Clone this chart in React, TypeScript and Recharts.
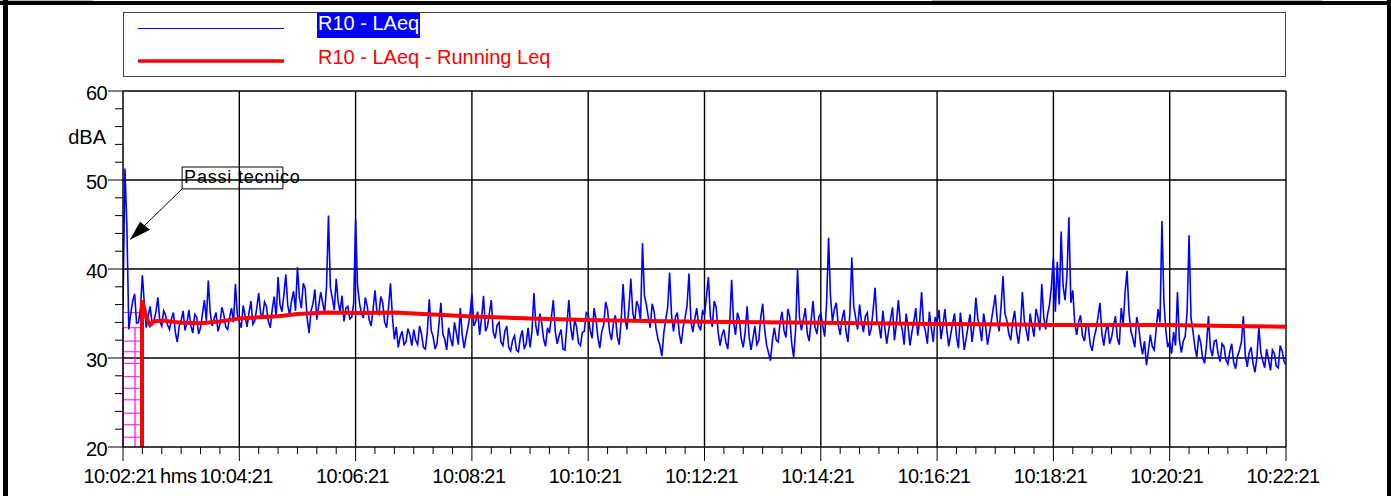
import { LineChart, Line, XAxis, YAxis, ReferenceLine, ReferenceArea, ReferenceDot, Legend } from "recharts"

const FONT = "'Liberation Sans', Arial, sans-serif"

// LAeq, one reading every 2 s from 10:02:21 (one row = one minute)
const sampleStep = 2
const laeq = [
  35.5, 51.3, 44.8, 33.2, 35.0, 36.4, 37.2, 33.9, 34.0, 35.6, 39.3, 36.1, 33.4, 34.7, 35.8, 33.9, 34.2, 35.2, 36.8, 34.1, 33.6, 35.3, 34.8, 33.7, 33.2, 34.4, 35.1, 32.9, 31.8, 33.6,
  34.2, 35.3, 33.1, 34.0, 35.4, 33.6, 32.8, 34.9, 34.6, 32.7, 33.4, 35.0, 36.5, 34.2, 38.7, 35.1, 33.6, 34.4, 35.1, 33.0, 33.8, 35.7, 34.9, 33.5, 33.2, 34.6, 35.6, 34.0, 38.3, 34.8,
  34.1, 33.4, 35.9, 34.7, 33.5, 35.1, 36.4, 33.8, 34.2, 35.6, 37.3, 35.0, 34.6, 36.3, 35.8, 34.1, 33.4, 35.5, 36.9, 34.6, 39.1, 36.0, 35.2, 37.1, 39.4, 35.9, 34.8, 36.5, 37.5, 35.3,
  40.2, 36.8, 35.6, 38.4, 37.8, 34.5, 32.8, 35.3, 36.1, 37.7, 34.3, 35.9, 37.4, 36.2, 35.1, 38.0, 46.0, 37.9, 36.7, 35.4, 38.9, 36.3, 35.2, 37.0, 34.1, 35.6, 35.8, 34.4, 34.6, 36.1,
  45.6, 38.2, 36.2, 35.0, 34.5, 36.8, 35.8, 34.3, 33.6, 35.4, 37.6, 35.2, 34.9, 36.9, 36.2, 34.0, 33.4, 35.7, 38.4, 34.6, 32.1, 33.5, 31.2, 32.4, 33.0, 31.5, 31.8, 33.3, 32.6, 31.4,
  33.2, 32.0, 31.5, 33.6, 32.7, 31.2, 31.0, 32.9, 36.6, 33.1, 32.4, 31.0, 31.6, 33.8, 36.2, 32.7, 32.1, 30.9, 33.4, 32.2, 31.3, 34.0, 32.8, 31.5, 35.6, 32.6, 31.1, 32.4, 33.5, 34.8,
  37.2, 33.6, 34.1, 35.2, 32.6, 34.5, 37.0, 33.0, 33.5, 35.0, 36.5, 32.9, 32.2, 33.7, 34.0, 31.8, 31.4, 33.0, 33.6, 31.2, 30.8, 32.0, 32.5, 30.9, 30.7, 32.3, 33.1, 31.0, 31.6, 33.4,
  31.2, 33.0, 37.3, 33.6, 32.5, 35.0, 34.0, 32.1, 31.3, 33.4, 32.8, 34.6, 36.5, 33.0, 31.6, 32.5, 33.2, 31.0, 30.9, 33.7, 36.5, 33.4, 32.0, 34.3, 33.5, 31.7, 31.4, 32.9, 33.0, 35.1,
  34.9, 33.1, 32.2, 35.6, 34.4, 32.3, 31.1, 33.0, 33.7, 36.3, 35.4, 33.0, 32.0, 33.9, 34.8, 32.4, 31.5, 34.2, 38.3, 34.5, 33.2, 35.6, 38.9, 35.1, 34.0, 36.4, 35.8, 34.2, 42.9, 37.0,
  36.0, 34.6, 33.4, 36.1, 35.2, 33.3, 32.1, 31.4, 30.2, 32.8, 34.3, 35.7, 39.6, 34.8, 33.0, 34.6, 35.1, 32.7, 31.6, 33.5, 34.5, 35.9, 39.5, 34.1, 32.9, 34.4, 35.6, 33.6, 33.1, 35.4,
  34.8, 36.9, 39.1, 34.7, 33.5, 36.4, 35.7, 33.0, 31.4, 32.6, 33.2, 31.8, 31.0, 33.9, 38.8, 34.0, 32.6, 35.1, 34.3, 32.1, 31.2, 33.0, 35.8, 32.4, 30.9, 32.2, 33.6, 31.5, 32.0, 34.5,
  36.1, 33.3, 31.5, 30.6, 29.7, 31.9, 33.4, 32.0, 31.8, 34.0, 35.2, 33.1, 32.3, 35.5, 34.6, 31.6, 30.1, 33.2, 39.9, 34.6, 33.1, 34.3, 35.6, 32.8, 31.9, 34.2, 36.4, 33.5, 32.7, 34.6,
  35.0, 33.6, 32.4, 36.2, 43.5, 36.9, 34.1, 35.5, 36.2, 33.7, 32.6, 34.4, 35.4, 33.0, 31.8, 35.0, 41.3, 35.8, 34.5, 33.2, 36.0, 34.1, 32.9, 34.7, 35.1, 32.5, 33.3, 35.4, 37.9, 34.0,
  33.7, 32.2, 35.3, 33.4, 31.6, 33.1, 34.4, 35.7, 32.0, 33.8, 36.5, 34.0, 33.2, 31.5, 35.0, 33.6, 31.4, 32.9, 34.1, 35.6, 32.5, 34.2, 37.4, 33.8, 33.0, 31.6, 35.2, 33.4, 31.8, 34.6,
  34.0, 35.4, 32.1, 33.6, 35.5, 33.2, 31.3, 32.6, 33.9, 35.0, 32.4, 31.1, 35.1, 33.3, 30.9, 32.2, 33.6, 34.9, 31.8, 33.5, 36.8, 34.4, 33.5, 31.9, 35.0, 33.7, 31.5, 32.8, 34.2, 35.6,
  37.1, 34.3, 33.0, 35.8, 39.2, 35.0, 34.2, 32.7, 32.0, 34.1, 35.3, 33.0, 31.6, 33.5, 37.4, 34.2, 33.1, 31.9, 35.0, 33.6, 32.4, 35.5, 34.6, 33.1, 38.3, 34.7, 33.2, 34.9, 36.0, 38.1,
  41.3, 35.2, 40.8, 36.0, 44.2, 38.1, 36.5, 39.3, 45.8, 36.2, 37.6, 33.9, 32.6, 34.0, 34.8, 32.5, 31.9, 33.7, 33.6, 31.5, 30.8, 32.3, 33.2, 34.6, 36.2, 32.8, 31.4, 33.0, 33.9, 31.6,
  32.3, 33.6, 34.7, 32.2, 31.5, 35.6, 33.8, 37.4, 39.8, 35.1, 33.0, 32.2, 31.2, 34.6, 33.5, 31.6, 30.4, 31.9, 29.2, 30.8, 32.6, 31.3, 30.9, 33.2, 35.5, 34.0, 45.4, 36.4, 33.1, 31.2,
  31.8, 30.5, 32.9, 31.4, 37.4, 32.0, 30.6, 31.9, 32.4, 35.3, 43.8, 34.5, 33.0, 31.2, 30.1, 32.6, 31.7, 30.0, 29.4, 31.5, 34.7, 31.1, 30.2, 31.9, 32.0, 30.4, 29.6, 31.6, 31.3, 29.8,
  29.3, 30.7, 31.6, 29.5, 28.8, 30.2, 30.9, 31.8, 34.7, 30.3, 29.0, 30.6, 31.2, 29.4, 28.4, 30.1, 33.5, 30.6, 29.7, 28.9, 31.0, 29.8, 28.6, 30.9, 30.5, 29.1, 28.9, 31.4, 30.8, 29.6,
  29.2,
]

// running Leq (seconds from start, dBA)
const runTimes = [19.6, 19.6, 24, 28, 32, 40, 60, 80, 100, 120, 160, 180, 210, 240, 280, 300, 360, 420, 480, 540, 600, 720, 840, 960, 1080, 1140, 1200]
const runLeq = [20, 36.5, 34.6, 33.7, 34.1, 34.2, 33.95, 33.9, 34.1, 34.45, 34.7, 34.95, 35.1, 35.05, 35.1, 35.0, 34.65, 34.45, 34.27, 34.15, 34.08, 33.97, 33.82, 33.72, 33.7, 33.6, 33.52]

const majorTimes = [0, 120, 240, 360, 480, 600, 720, 840, 960, 1080, 1200]
const timeLabels = ["10:02:21", "10:04:21", "10:06:21", "10:08:21", "10:10:21", "10:12:21", "10:14:21", "10:16:21", "10:18:21", "10:20:21", "10:22:21"]
const minorTimes = Array.from({ length: 61 }, (_, i) => i * 20)
const dbTicks = [20, 30, 40, 50, 60]
const dbMinor = Array.from({ length: 21 }, (_, i) => 20 + i * 2)

// pink hatched block before the running Leq starts
const hatchLevels = [21.1, 22.5, 23.8, 25.3, 26.6, 27.9, 29.4, 30.7, 31.9, 33.4, 35.1]
const hatchCols = [0, 12.4]
const hatchEnd = 19.6

const note = { text: "Passi tecnico", from: 61, to: 165, low: 49.0, high: 51.46, tipT: 7.2, tipLevel: 43.3 }

const laeqData = laeq.map((v, i) => ({ t: i * sampleStep, v }))
const runData = runTimes.map((t, i) => ({ t, v: runLeq[i] }))

function TimeTick({ x, y, payload }: any) {
  const t = payload.value
  const idx = majorTimes.indexOf(t)
  const major = idx >= 0
  return (
    <g>
      <line x1={x} x2={x} y1={y} y2={y + (major ? 14 : 7)} stroke="#000" strokeWidth={1} />
      {major && (
        <text x={x - 3} y={y + 36} textAnchor="middle" fontSize={20} letterSpacing={-0.6} fontFamily={FONT} fill="#000">
          {timeLabels[idx]}
        </text>
      )}
      {t === 0 && (
        <text x={x + 37} y={y + 36} textAnchor="start" fontSize={20} letterSpacing={-0.4} fontFamily={FONT} fill="#000">
          hms
        </text>
      )}
    </g>
  )
}

function LevelTick({ x, y, payload }: any) {
  const v = payload.value
  const major = dbTicks.includes(v)
  return (
    <g>
      <line x1={x - (major ? 15 : 8)} x2={x} y1={y} y2={y} stroke="#000" strokeWidth={1} />
      {major && (
        <text x={x - 16} y={y + 9} textAnchor="end" fontSize={20} letterSpacing={-0.6} fontFamily={FONT} fill="#000">
          {v}
        </text>
      )}
    </g>
  )
}

function LegendBox({ payload }: any) {
  const items = payload ?? []
  return (
    <svg width={1163} height={65} style={{ display: "block" }}>
      <rect x={0.5} y={0.5} width={1162} height={64} fill="#fff" stroke="#444" strokeWidth={1} />
      {items.map((it: any, i: number) => {
        const first = i === 0
        const ly = first ? 16.5 : 49
        const ty = first ? 18 : 52
        return (
          <g key={i}>
            <line x1={15} x2={161} y1={ly} y2={ly} stroke={it.color} strokeWidth={first ? 1 : 3.5} />
            {first && <rect x={194} y={0.5} width={103} height={25.5} fill={it.color} />}
            <text x={195} y={ty} fontSize={20} fontFamily={FONT} fill={first ? "#fff" : it.color}>
              {it.value}
            </text>
          </g>
        )
      })}
    </svg>
  )
}

const grid = "#000"

export default function App() {
  return (
    <div style={{ position: "absolute", left: 0, top: 0, width: 1391, height: 496, background: "#fff", overflow: "hidden" }}>
      <div style={{ position: "absolute", left: 0, top: 0 }}>
        <LineChart width={1391} height={496} margin={{ top: 91, right: 105, bottom: 0, left: 0 }}>
          <XAxis
            dataKey="t"
            type="number"
            domain={[0, 1200]}
            ticks={minorTimes}
            interval={0}
            allowDataOverflow
            height={49}
            tickSize={0}
            tickMargin={0}
            axisLine={{ stroke: grid, strokeWidth: 1.5 }}
            tick={<TimeTick />}
          />
          <YAxis
            type="number"
            domain={[20, 60]}
            ticks={dbMinor}
            interval={0}
            allowDataOverflow
            width={123}
            tickSize={0}
            tickMargin={0}
            axisLine={{ stroke: grid, strokeWidth: 1.5 }}
            tick={<LevelTick />}
            label={(p: any) => {
              const vb = p.viewBox || { x: 0, y: 91, width: 123 }
              return (
                <text x={vb.x + vb.width - 17} y={vb.y + 52.5} textAnchor="end" fontSize={20} fontFamily={FONT} fill="#000">
                  dBA
                </text>
              )
            }}
          />
          {majorTimes.slice(1).map((t) => (
            <ReferenceLine key={"gx" + t} x={t} stroke={grid} strokeWidth={1.4} />
          ))}
          {dbTicks.slice(1).map((v) => (
            <ReferenceLine key={"gy" + v} y={v} stroke={grid} strokeWidth={1.4} />
          ))}
          {hatchLevels.map((l) => (
            <ReferenceLine key={"hl" + l} segment={[{ x: 0, y: l }, { x: hatchEnd, y: l }]} stroke="#ff00ff" strokeWidth={1} />
          ))}
          {hatchCols.map((c) => (
            <ReferenceLine key={"hc" + c} segment={[{ x: c, y: 20 }, { x: c, y: hatchLevels[hatchLevels.length - 2] }]} stroke="#ff00ff" strokeWidth={1.2} />
          ))}
          <Line
            data={laeqData}
            dataKey="v"
            name="R10 - LAeq"
            stroke="#0000ff"
            strokeWidth={1.6}
            dot={false}
            activeDot={false}
            isAnimationActive={false}
          />
          <Line
            data={runData}
            dataKey="v"
            name="R10 - LAeq - Running Leq"
            stroke="#ff0000"
            strokeWidth={4}
            dot={false}
            activeDot={false}
            isAnimationActive={false}
          />
          <ReferenceLine
            segment={[{ x: note.from, y: note.low }, { x: note.tipT, y: note.tipLevel }]}
            stroke="#000"
            strokeWidth={1}
          />
          <ReferenceDot
            x={note.tipT}
            y={note.tipLevel}
            r={1}
            shape={(p: any) => (
              <polygon points={`${p.cx},${p.cy} ${p.cx + 10},${p.cy - 18} ${p.cx + 20},${p.cy - 10}`} fill="#000" />
            )}
          />
          <ReferenceArea
            x1={note.from}
            x2={note.to}
            y1={note.low}
            y2={note.high}
            fill="#fff"
            fillOpacity={1}
            stroke="#000"
            strokeWidth={1}
            label={(p: any) => {
              const vb = p.viewBox || { x: 0, y: 0 }
              return (
                <text x={vb.x + 2} y={vb.y + 16.3} fontSize={18} letterSpacing={0.8} fontFamily={FONT} fill="#000">
                  {note.text}
                </text>
              )
            }}
          />
          <Legend
            layout="horizontal"
            verticalAlign="middle"
            align="center"
            wrapperStyle={{ left: 123, top: 12, width: 1163, height: 65 }}
            content={<LegendBox />}
          />
        </LineChart>
      </div>
      <div style={{ position: "absolute", left: 0, top: 0, width: 93, height: 1, background: "#b8b8b8" }} />
      <div style={{ position: "absolute", left: 932, top: 0, width: 390, height: 1, background: "#b8b8b8" }} />
      <div style={{ position: "absolute", left: 0, top: 1, width: 1391, height: 4, background: "#000" }} />
      <div style={{ position: "absolute", left: 3, top: 0, width: 5, height: 496, background: "#000" }} />
      <div style={{ position: "absolute", left: 1387, top: 0, width: 4, height: 496, background: "#000" }} />
    </div>
  )
}
